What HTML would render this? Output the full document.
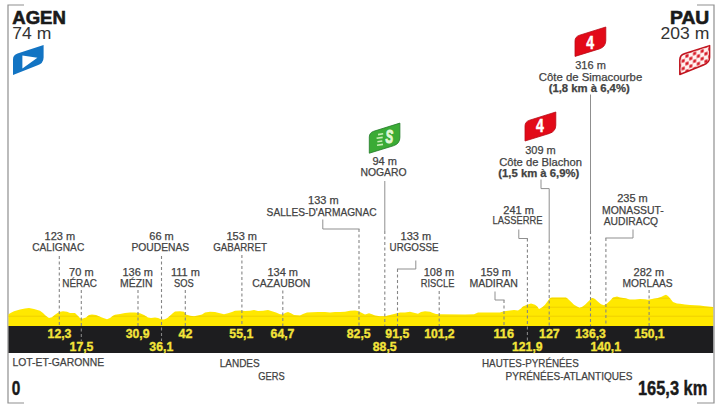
<!DOCTYPE html><html><head><meta charset="utf-8"><style>html,body{margin:0;padding:0;background:#fff;width:720px;height:408px;overflow:hidden}svg{display:block}text{font-family:"Liberation Sans",sans-serif}</style></head><body>
<svg width="720" height="408" viewBox="0 0 720 408">
<defs><clipPath id="pc"><polygon points="8.5,314.2 11,312.8 14,311.2 20,309.6 25,308.4 29,308.1 34,309 40,310.8 43,313 46,316 49,317.9 52,317.2 55,314.8 59,312 63,311.2 67,311.7 70,312.9 75,312.9 77,315 80,317.9 82,318.7 86,317.5 89,315 92,314.6 96,315 100,316.7 104,318.3 107,319.2 110,318 113,315.8 115,314.8 120,314 125,312.9 130,312.5 135,312.5 140,313.3 144,315 148,317.5 151,318 155,317.5 158,318 161,319.2 164,319.6 167,318.3 170,315.8 173,313 175,311.5 180,311.25 184,311.7 186,314.6 190,315.8 194,316.25 198,315.4 202,314.6 205,312.5 210,311.7 215,312 220,313.3 224,314.2 228,313.3 232,312 235,310.8 240,310.4 245,311 250,310.8 254,310 258,311 263,310.8 268,310 272,311.25 276,312.5 280,314.2 283,314.4 285,313 288,312 291,313.3 294,315 300,315.4 303,314 307,312.5 312,312.2 318,312 325,312 330,312.5 335,312 340,312 345,311.7 350,310.8 355,310.4 358,311 362,312.9 365,314.6 369,313.3 372,314.2 375,315.4 380,316.25 385,316.25 390,315 395,313.75 400,312.5 405,312.5 410,311.7 415,313 418,313.75 421,312 425,311.25 430,311.7 433,313 436,314 440,314.2 465,314.4 474,314.2 478,312.6 490,312.4 500,312.4 504,311.2 510,310.5 514,310 518,310.5 521,308.4 523,306.6 527,304.7 531,303.5 535,304.7 537,306.3 539,309 542,307.6 545,304.7 548,300.7 550,298 552,297.4 566,297.4 568,299 571,301.7 574,304.7 577,306.6 579.5,307.8 582,307 585,304.7 588,301.7 592,298 595,299 598,301.7 601,304.2 604,305.2 607,303.6 610,300.7 613,297.4 617,296.6 620,297.4 625,298.3 630,299.6 635,299.5 640,299 645,299.3 648,299.8 652,299 657,298.2 661,297 664,295.6 666,294.8 668,296 671,299.5 673,301.9 677,303.5 680,303.8 685,304.4 690,305.1 695,305.2 700,305.5 705,306.3 710,306.8 713.2,307 713.2,326 8.5,326"/></clipPath></defs>
<path d="M24,5 H8 V403 H24 M697,5 H714 V403 H697" fill="none" stroke="#8f8f8f" stroke-width="1.2"/>
<polygon points="8.5,314.2 11,312.8 14,311.2 20,309.6 25,308.4 29,308.1 34,309 40,310.8 43,313 46,316 49,317.9 52,317.2 55,314.8 59,312 63,311.2 67,311.7 70,312.9 75,312.9 77,315 80,317.9 82,318.7 86,317.5 89,315 92,314.6 96,315 100,316.7 104,318.3 107,319.2 110,318 113,315.8 115,314.8 120,314 125,312.9 130,312.5 135,312.5 140,313.3 144,315 148,317.5 151,318 155,317.5 158,318 161,319.2 164,319.6 167,318.3 170,315.8 173,313 175,311.5 180,311.25 184,311.7 186,314.6 190,315.8 194,316.25 198,315.4 202,314.6 205,312.5 210,311.7 215,312 220,313.3 224,314.2 228,313.3 232,312 235,310.8 240,310.4 245,311 250,310.8 254,310 258,311 263,310.8 268,310 272,311.25 276,312.5 280,314.2 283,314.4 285,313 288,312 291,313.3 294,315 300,315.4 303,314 307,312.5 312,312.2 318,312 325,312 330,312.5 335,312 340,312 345,311.7 350,310.8 355,310.4 358,311 362,312.9 365,314.6 369,313.3 372,314.2 375,315.4 380,316.25 385,316.25 390,315 395,313.75 400,312.5 405,312.5 410,311.7 415,313 418,313.75 421,312 425,311.25 430,311.7 433,313 436,314 440,314.2 465,314.4 474,314.2 478,312.6 490,312.4 500,312.4 504,311.2 510,310.5 514,310 518,310.5 521,308.4 523,306.6 527,304.7 531,303.5 535,304.7 537,306.3 539,309 542,307.6 545,304.7 548,300.7 550,298 552,297.4 566,297.4 568,299 571,301.7 574,304.7 577,306.6 579.5,307.8 582,307 585,304.7 588,301.7 592,298 595,299 598,301.7 601,304.2 604,305.2 607,303.6 610,300.7 613,297.4 617,296.6 620,297.4 625,298.3 630,299.6 635,299.5 640,299 645,299.3 648,299.8 652,299 657,298.2 661,297 664,295.6 666,294.8 668,296 671,299.5 673,301.9 677,303.5 680,303.8 685,304.4 690,305.1 695,305.2 700,305.5 705,306.3 710,306.8 713.2,307 713.2,326 8.5,326" fill="#ffe800"/>
<g clip-path="url(#pc)" stroke="#efd000" stroke-width="1"><line x1="8" y1="316.2" x2="714" y2="316.2"/><line x1="8" y1="307.2" x2="714" y2="307.2"/><line x1="8" y1="298.2" x2="714" y2="298.2"/></g>
<rect x="8.5" y="326" width="704.7" height="27" fill="#1d1d1f"/>
<line x1="59.3" y1="256" x2="59.3" y2="326" stroke="#858585" stroke-width="1.1" stroke-dasharray="3,2.5"/>
<line x1="81.3" y1="290" x2="81.3" y2="341" stroke="#858585" stroke-width="1.1" stroke-dasharray="3,2.5"/>
<line x1="138" y1="290" x2="138" y2="326" stroke="#858585" stroke-width="1.1" stroke-dasharray="3,2.5"/>
<line x1="161.5" y1="256" x2="161.5" y2="341" stroke="#858585" stroke-width="1.1" stroke-dasharray="3,2.5"/>
<line x1="185.3" y1="290" x2="185.3" y2="326" stroke="#858585" stroke-width="1.1" stroke-dasharray="3,2.5"/>
<line x1="241.9" y1="255" x2="241.9" y2="326" stroke="#858585" stroke-width="1.1" stroke-dasharray="3,2.5"/>
<line x1="282.8" y1="290.5" x2="282.8" y2="326" stroke="#858585" stroke-width="1.1" stroke-dasharray="3,2.5"/>
<line x1="359" y1="229" x2="359" y2="326" stroke="#858585" stroke-width="1.1" stroke-dasharray="3,2.5"/>
<line x1="384.8" y1="231" x2="384.8" y2="326" stroke="#858585" stroke-width="1.1" stroke-dasharray="3,2.5"/>
<line x1="397.5" y1="269" x2="397.5" y2="326" stroke="#858585" stroke-width="1.1" stroke-dasharray="3,2.5"/>
<line x1="439.2" y1="291" x2="439.2" y2="326" stroke="#858585" stroke-width="1.1" stroke-dasharray="3,2.5"/>
<line x1="504" y1="300" x2="504" y2="326" stroke="#858585" stroke-width="1.1" stroke-dasharray="3,2.5"/>
<line x1="527.4" y1="238.5" x2="527.4" y2="341" stroke="#858585" stroke-width="1.1" stroke-dasharray="3,2.5"/>
<line x1="549.2" y1="240" x2="549.2" y2="326" stroke="#858585" stroke-width="1.1" stroke-dasharray="3,2.5"/>
<line x1="590.5" y1="231" x2="590.5" y2="326" stroke="#858585" stroke-width="1.1" stroke-dasharray="3,2.5"/>
<line x1="605.9" y1="238" x2="605.9" y2="326" stroke="#858585" stroke-width="1.1" stroke-dasharray="3,2.5"/>
<line x1="649.1" y1="290" x2="649.1" y2="326" stroke="#858585" stroke-width="1.1" stroke-dasharray="3,2.5"/>
<path d="M322.8,219.5 V229 H359.5" fill="none" stroke="#8f8f8f" stroke-width="1"/>
<path d="M415.8,260.5 V269 H397" fill="none" stroke="#8f8f8f" stroke-width="1"/>
<path d="M518.8,229.5 V238.5 H527.9" fill="none" stroke="#8f8f8f" stroke-width="1"/>
<path d="M633,229.5 V238 H605.4" fill="none" stroke="#8f8f8f" stroke-width="1"/>
<path d="M495,291.5 V300 H504.5" fill="none" stroke="#8f8f8f" stroke-width="1"/>
<path d="M541,179.5 V188.6 H549.2 V240" fill="none" stroke="#8f8f8f" stroke-width="1"/>
<path d="M590.5,94.5 V231" fill="none" stroke="#8f8f8f" stroke-width="1"/>
<path d="M384.8,181 V231" fill="none" stroke="#8f8f8f" stroke-width="1"/>
<text x="59.9" y="240" font-size="11" font-weight="400" fill="#424242" text-anchor="middle" stroke="#424242" stroke-width="0.25">123 m</text>
<text x="58.25" y="251.4" font-size="11" font-weight="400" fill="#424242" text-anchor="middle" textLength="52.1" lengthAdjust="spacingAndGlyphs" stroke="#424242" stroke-width="0.25">CALIGNAC</text>
<text x="161.5" y="240" font-size="11" font-weight="400" fill="#424242" text-anchor="middle" stroke="#424242" stroke-width="0.25">66 m</text>
<text x="160.3" y="251.4" font-size="11" font-weight="400" fill="#424242" text-anchor="middle" textLength="57.8" lengthAdjust="spacingAndGlyphs" stroke="#424242" stroke-width="0.25">POUDENAS</text>
<text x="241.75" y="240" font-size="11" font-weight="400" fill="#424242" text-anchor="middle" stroke="#424242" stroke-width="0.25">153 m</text>
<text x="240.05" y="251.4" font-size="11" font-weight="400" fill="#424242" text-anchor="middle" textLength="53.7" lengthAdjust="spacingAndGlyphs" stroke="#424242" stroke-width="0.25">GABARRET</text>
<text x="415.9" y="240" font-size="11" font-weight="400" fill="#424242" text-anchor="middle" stroke="#424242" stroke-width="0.25">133 m</text>
<text x="414.05" y="251.4" font-size="11" font-weight="400" fill="#424242" text-anchor="middle" textLength="48.9" lengthAdjust="spacingAndGlyphs" stroke="#424242" stroke-width="0.25">URGOSSE</text>
<text x="81.35" y="276.2" font-size="11" font-weight="400" fill="#424242" text-anchor="middle" stroke="#424242" stroke-width="0.25">70 m</text>
<text x="79.6" y="286.9" font-size="11" font-weight="400" fill="#424242" text-anchor="middle" textLength="34.7" lengthAdjust="spacingAndGlyphs" stroke="#424242" stroke-width="0.25">NÉRAC</text>
<text x="137.75" y="276.2" font-size="11" font-weight="400" fill="#424242" text-anchor="middle" stroke="#424242" stroke-width="0.25">136 m</text>
<text x="136.3" y="286.9" font-size="11" font-weight="400" fill="#424242" text-anchor="middle" textLength="32.5" lengthAdjust="spacingAndGlyphs" stroke="#424242" stroke-width="0.25">MÉZIN</text>
<text x="185.5" y="276.2" font-size="11" font-weight="400" fill="#424242" text-anchor="middle" stroke="#424242" stroke-width="0.25">111 m</text>
<text x="183.9" y="286.9" font-size="11" font-weight="400" fill="#424242" text-anchor="middle" textLength="19.7" lengthAdjust="spacingAndGlyphs" stroke="#424242" stroke-width="0.25">SOS</text>
<text x="282.75" y="276.2" font-size="11" font-weight="400" fill="#424242" text-anchor="middle" stroke="#424242" stroke-width="0.25">134 m</text>
<text x="281.35" y="286.9" font-size="11" font-weight="400" fill="#424242" text-anchor="middle" textLength="58.1" lengthAdjust="spacingAndGlyphs" stroke="#424242" stroke-width="0.25">CAZAUBON</text>
<text x="439" y="276.2" font-size="11" font-weight="400" fill="#424242" text-anchor="middle" stroke="#424242" stroke-width="0.25">108 m</text>
<text x="437.6" y="286.9" font-size="11" font-weight="400" fill="#424242" text-anchor="middle" textLength="33.6" lengthAdjust="spacingAndGlyphs" stroke="#424242" stroke-width="0.25">RISCLE</text>
<text x="495.7" y="276.2" font-size="11" font-weight="400" fill="#424242" text-anchor="middle" stroke="#424242" stroke-width="0.25">159 m</text>
<text x="493.7" y="286.9" font-size="11" font-weight="400" fill="#424242" text-anchor="middle" textLength="48.6" lengthAdjust="spacingAndGlyphs" stroke="#424242" stroke-width="0.25">MADIRAN</text>
<text x="648.85" y="276.2" font-size="11" font-weight="400" fill="#424242" text-anchor="middle" stroke="#424242" stroke-width="0.25">282 m</text>
<text x="647.6" y="286.9" font-size="11" font-weight="400" fill="#424242" text-anchor="middle" textLength="50" lengthAdjust="spacingAndGlyphs" stroke="#424242" stroke-width="0.25">MORLAAS</text>
<text x="323.4" y="204.2" font-size="11" font-weight="400" fill="#424242" text-anchor="middle" stroke="#424242" stroke-width="0.25">133 m</text>
<text x="321.6" y="215.8" font-size="11" font-weight="400" fill="#424242" text-anchor="middle" textLength="110" lengthAdjust="spacingAndGlyphs" stroke="#424242" stroke-width="0.25">SALLES-D'ARMAGNAC</text>
<text x="384.65" y="164.9" font-size="11" font-weight="400" fill="#424242" text-anchor="middle" stroke="#424242" stroke-width="0.25">94 m</text>
<text x="383.5" y="175.8" font-size="11" font-weight="400" fill="#424242" text-anchor="middle" textLength="46.2" lengthAdjust="spacingAndGlyphs" stroke="#424242" stroke-width="0.25">NOGARO</text>
<text x="518.6" y="214.3" font-size="11" font-weight="400" fill="#424242" text-anchor="middle" stroke="#424242" stroke-width="0.25">241 m</text>
<text x="517.55" y="223.9" font-size="11" font-weight="400" fill="#424242" text-anchor="middle" textLength="50" lengthAdjust="spacingAndGlyphs" stroke="#424242" stroke-width="0.25">LASSERRE</text>
<text x="632.5" y="202.3" font-size="11" font-weight="400" fill="#424242" text-anchor="middle" stroke="#424242" stroke-width="0.25">235 m</text>
<text x="632.9" y="214.2" font-size="11" font-weight="400" fill="#424242" text-anchor="middle" textLength="61.8" lengthAdjust="spacingAndGlyphs" stroke="#424242" stroke-width="0.25">MONASSUT-</text>
<text x="630.9" y="224.5" font-size="11" font-weight="400" fill="#424242" text-anchor="middle" textLength="54.5" lengthAdjust="spacingAndGlyphs" stroke="#424242" stroke-width="0.25">AUDIRACQ</text>
<text x="540.5" y="154.1" font-size="11" font-weight="400" fill="#424242" text-anchor="middle" stroke="#424242" stroke-width="0.25">309 m</text>
<text x="540.6" y="165.9" font-size="11" font-weight="400" fill="#424242" text-anchor="middle" textLength="82.8" lengthAdjust="spacingAndGlyphs" stroke="#424242" stroke-width="0.25">Côte de Blachon</text>
<text x="538.8" y="176.6" font-size="11" font-weight="700" fill="#424242" text-anchor="middle" textLength="81" lengthAdjust="spacingAndGlyphs" stroke="#424242" stroke-width="0.25">(1,5 km à 6,9%)</text>
<text x="590.55" y="69" font-size="11" font-weight="400" fill="#424242" text-anchor="middle" stroke="#424242" stroke-width="0.25">316 m</text>
<text x="590.5" y="80.8" font-size="11" font-weight="400" fill="#424242" text-anchor="middle" textLength="103.4" lengthAdjust="spacingAndGlyphs" stroke="#424242" stroke-width="0.25">Côte de Simacourbe</text>
<text x="589.2" y="91.5" font-size="11" font-weight="700" fill="#424242" text-anchor="middle" textLength="81" lengthAdjust="spacingAndGlyphs" stroke="#424242" stroke-width="0.25">(1,8 km à 6,4%)</text>
<text x="59.5" y="337.7" font-size="13.4" font-weight="700" fill="#f4e53a" text-anchor="middle" textLength="23.9" lengthAdjust="spacingAndGlyphs" stroke="#f4e53a" stroke-width="0.35">12,3</text>
<text x="81.5" y="351.0" font-size="13.4" font-weight="700" fill="#f4e53a" text-anchor="middle" textLength="23.9" lengthAdjust="spacingAndGlyphs" stroke="#f4e53a" stroke-width="0.35">17,5</text>
<text x="137.6" y="337.7" font-size="13.4" font-weight="700" fill="#f4e53a" text-anchor="middle" textLength="23.9" lengthAdjust="spacingAndGlyphs" stroke="#f4e53a" stroke-width="0.35">30,9</text>
<text x="161.3" y="351.0" font-size="13.4" font-weight="700" fill="#f4e53a" text-anchor="middle" textLength="23.9" lengthAdjust="spacingAndGlyphs" stroke="#f4e53a" stroke-width="0.35">36,1</text>
<text x="185.4" y="337.7" font-size="13.4" font-weight="700" fill="#f4e53a" text-anchor="middle" textLength="13.9" lengthAdjust="spacingAndGlyphs" stroke="#f4e53a" stroke-width="0.35">42</text>
<text x="241.3" y="337.7" font-size="13.4" font-weight="700" fill="#f4e53a" text-anchor="middle" textLength="23.9" lengthAdjust="spacingAndGlyphs" stroke="#f4e53a" stroke-width="0.35">55,1</text>
<text x="282.5" y="337.7" font-size="13.4" font-weight="700" fill="#f4e53a" text-anchor="middle" textLength="23.9" lengthAdjust="spacingAndGlyphs" stroke="#f4e53a" stroke-width="0.35">64,7</text>
<text x="358.7" y="337.7" font-size="13.4" font-weight="700" fill="#f4e53a" text-anchor="middle" textLength="23.9" lengthAdjust="spacingAndGlyphs" stroke="#f4e53a" stroke-width="0.35">82,5</text>
<text x="384.7" y="351.0" font-size="13.4" font-weight="700" fill="#f4e53a" text-anchor="middle" textLength="23.9" lengthAdjust="spacingAndGlyphs" stroke="#f4e53a" stroke-width="0.35">88,5</text>
<text x="397.3" y="337.7" font-size="13.4" font-weight="700" fill="#f4e53a" text-anchor="middle" textLength="23.9" lengthAdjust="spacingAndGlyphs" stroke="#f4e53a" stroke-width="0.35">91,5</text>
<text x="439.4" y="337.7" font-size="13.4" font-weight="700" fill="#f4e53a" text-anchor="middle" textLength="30.5" lengthAdjust="spacingAndGlyphs" stroke="#f4e53a" stroke-width="0.35">101,2</text>
<text x="503.7" y="337.7" font-size="13.4" font-weight="700" fill="#f4e53a" text-anchor="middle" textLength="20.6" lengthAdjust="spacingAndGlyphs" stroke="#f4e53a" stroke-width="0.35">116</text>
<text x="527.3" y="351.0" font-size="13.4" font-weight="700" fill="#f4e53a" text-anchor="middle" textLength="30.5" lengthAdjust="spacingAndGlyphs" stroke="#f4e53a" stroke-width="0.35">121,9</text>
<text x="549.4" y="337.7" font-size="13.4" font-weight="700" fill="#f4e53a" text-anchor="middle" textLength="20.6" lengthAdjust="spacingAndGlyphs" stroke="#f4e53a" stroke-width="0.35">127</text>
<text x="590.6" y="337.7" font-size="13.4" font-weight="700" fill="#f4e53a" text-anchor="middle" textLength="30.5" lengthAdjust="spacingAndGlyphs" stroke="#f4e53a" stroke-width="0.35">136,3</text>
<text x="605.7" y="351.0" font-size="13.4" font-weight="700" fill="#f4e53a" text-anchor="middle" textLength="30.5" lengthAdjust="spacingAndGlyphs" stroke="#f4e53a" stroke-width="0.35">140,1</text>
<text x="649.4" y="337.7" font-size="13.4" font-weight="700" fill="#f4e53a" text-anchor="middle" textLength="30.5" lengthAdjust="spacingAndGlyphs" stroke="#f4e53a" stroke-width="0.35">150,1</text>
<text x="12.5" y="365.6" font-size="11" font-weight="400" fill="#424242" text-anchor="start" textLength="91.7" lengthAdjust="spacingAndGlyphs" stroke="#424242" stroke-width="0.25">LOT-ET-GARONNE</text>
<text x="219.7" y="366.9" font-size="11" font-weight="400" fill="#424242" text-anchor="start" textLength="40" lengthAdjust="spacingAndGlyphs" stroke="#424242" stroke-width="0.25">LANDES</text>
<text x="258.3" y="379.8" font-size="11" font-weight="400" fill="#424242" text-anchor="start" textLength="26.4" lengthAdjust="spacingAndGlyphs" stroke="#424242" stroke-width="0.25">GERS</text>
<text x="482" y="367.2" font-size="11" font-weight="400" fill="#424242" text-anchor="start" textLength="96.75" lengthAdjust="spacingAndGlyphs" stroke="#424242" stroke-width="0.25">HAUTES-PYRÉNÉES</text>
<text x="505.5" y="380.2" font-size="11" font-weight="400" fill="#424242" text-anchor="start" textLength="127" lengthAdjust="spacingAndGlyphs" stroke="#424242" stroke-width="0.25">PYRÉNÉES-ATLANTIQUES</text>
<text x="11.7" y="395.3" font-size="19.8" font-weight="700" fill="#1a1a1a" text-anchor="start" textLength="8.6" lengthAdjust="spacingAndGlyphs" stroke="#1a1a1a" stroke-width="0.4">0</text>
<text x="707.3" y="395.2" font-size="19.8" font-weight="700" fill="#1a1a1a" text-anchor="end" textLength="69.3" lengthAdjust="spacingAndGlyphs" stroke="#1a1a1a" stroke-width="0.4">165,3 km</text>
<g stroke="#1a1a1a" stroke-width="0.6">
<text x="12.3" y="23.5" font-size="17.8" font-weight="700" fill="#1a1a1a" text-anchor="start" textLength="53.6" lengthAdjust="spacingAndGlyphs">AGEN</text>
<text x="709.3" y="23.5" font-size="17.8" font-weight="700" fill="#1a1a1a" text-anchor="end" textLength="39.3" lengthAdjust="spacingAndGlyphs">PAU</text>
</g>
<text x="12.3" y="38.8" font-size="16.4" font-weight="400" fill="#333" text-anchor="start" textLength="39" lengthAdjust="spacingAndGlyphs">74 m</text>
<text x="709.3" y="38.8" font-size="16.4" font-weight="400" fill="#333" text-anchor="end" textLength="48.8" lengthAdjust="spacingAndGlyphs">203 m</text>
<path d="M13,75 L13,59.5 Q13,55 17.5,53.6 L43.6,45 V57.5 Q43.6,63.5 37,65.6 Z" fill="#1274c3"/>
<path d="M22.4,55.4 L22.4,68.6 L37.4,57.8 Z" fill="#fff"/>
<defs><pattern id="chk" x="685.1" y="270.6" width="7.6" height="7.6" patternUnits="userSpaceOnUse" patternTransform="skewY(-17.5)"><rect width="7.6" height="7.6" fill="#fff3f1"/><rect x="0.35" y="0.35" width="3.1" height="3.1" fill="#d71a26"/><rect x="4.15" y="4.15" width="3.1" height="3.1" fill="#d71a26"/></pattern></defs>
<path d="M679.8,74.5 L679.8,59.8 Q679.8,55.2 684.3,53.7 L709.6,45.6 V57.3 Q709.6,63 703.5,65 Z" fill="url(#chk)" stroke="#c0141e" stroke-width="1.5" stroke-linejoin="round"/>
<path d="M525,141 L525,126.05 Q525,121.70 529.50,120.24 L555.8,112 V125.15 Q555.8,131.40 549.30,133.51 Z" fill="#e20a18" stroke="#b90b16" stroke-width="0.8"/>
<text x="540" y="132" font-size="17.5" font-weight="700" fill="#fff" stroke="#fff" stroke-width="0.5" text-anchor="middle" textLength="7.8" lengthAdjust="spacingAndGlyphs">4</text>
<path d="M575,56.4 L575,41.05 Q575,36.70 579.50,35.24 L605.8,27 V40.55 Q605.8,46.80 599.30,48.91 Z" fill="#e20a18" stroke="#b90b16" stroke-width="0.8"/>
<text x="590.1" y="48.6" font-size="17.5" font-weight="700" fill="#fff" stroke="#fff" stroke-width="0.5" text-anchor="middle" textLength="7.8" lengthAdjust="spacingAndGlyphs">4</text>
<path d="M369.3,153.2 L369.3,137.05 Q369.3,132.70 373.80,131.24 L399.9,123.1 V137.45 Q399.9,143.70 393.40,145.80 Z" fill="#3bab35" stroke="#217a27" stroke-width="0.8"/>
<text x="389.4" y="143.4" font-size="19" font-weight="700" fill="#e4f8d6" stroke="#e4f8d6" stroke-width="1.1" text-anchor="middle" font-style="italic" textLength="7.6" lengthAdjust="spacingAndGlyphs">S</text>
<g stroke="#c8eeb5" stroke-width="1.6"><line x1="378" y1="134.6" x2="383.2" y2="133.8"/><line x1="376.6" y1="138.3" x2="382.7" y2="137.4"/><line x1="377.4" y1="141.7" x2="382.3" y2="141"/><line x1="377" y1="145.3" x2="383" y2="144.4"/></g>
</svg></body></html>
